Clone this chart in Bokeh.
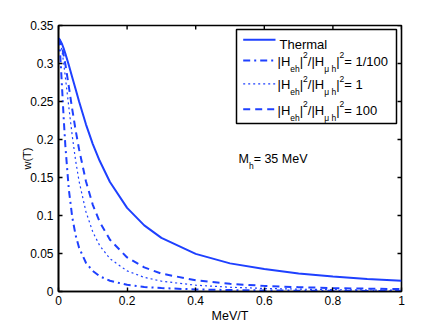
from bokeh.plotting import figure
from bokeh.models import Range1d, FixedTicker
from bokeh.core.properties import value
from bokeh.embed import file_html
from bokeh.resources import INLINE

# ---------------- data ----------------
mev_over_t = [0, 0.0025, 0.005, 0.0075, 0.01, 0.015, 0.02, 0.03, 0.04, 0.05, 0.06,
              0.08, 0.1, 0.12, 0.15, 0.2, 0.25, 0.3, 0.4, 0.5, 0.6, 0.7, 0.8, 0.9, 1.0]
w_thermal = [0.333, 0.332, 0.330, 0.328, 0.326, 0.320, 0.313, 0.298, 0.282, 0.266, 0.250,
             0.220, 0.194, 0.172, 0.144, 0.110, 0.087, 0.0706, 0.0495, 0.0370, 0.0295,
             0.0237, 0.0196, 0.0165, 0.0140]
w_ratio_1_100 = [0.333, 0.326, 0.311, 0.292, 0.271, 0.229, 0.1915, 0.1347, 0.098, 0.0739,
                 0.0576, 0.0378, 0.0269, 0.0201, 0.0141, 0.0088, 0.0060, 0.0045, 0.0027,
                 0.0019, 0.0014, 0.0011, 0.00085, 0.0007, 0.0006]
w_ratio_1 = [0.333, 0.332, 0.328, 0.323, 0.317, 0.301, 0.282, 0.243, 0.205, 0.172, 0.145,
             0.105, 0.0784, 0.0605, 0.0431, 0.0271, 0.0186, 0.0136, 0.0083, 0.0056, 0.0040,
             0.0031, 0.0024, 0.0020, 0.0016]
w_ratio_100 = [0.333, 0.332, 0.330, 0.326, 0.322, 0.311, 0.299, 0.270, 0.240, 0.212, 0.187,
               0.145, 0.114, 0.0916, 0.0681, 0.0448, 0.0317, 0.0236, 0.0147, 0.0101, 0.0074,
               0.0057, 0.0045, 0.0037, 0.0031]

x_ticks = [0, 0.2, 0.4, 0.6, 0.8, 1.0]
x_tick_labels = ["0", "0.2", "0.4", "0.6", "0.8", "1"]
y_ticks = [0, 0.05, 0.1, 0.15, 0.2, 0.25, 0.3, 0.35]
y_tick_labels = ["0", "0.05", "0.1", "0.15", "0.2", "0.25", "0.3", "0.35"]

legend_suffixes = [" = 1/100", " = 1", " = 100"]
mass_label = "35 MeV"

# ---------------- layout (page has no body margin: canvas px == screen px) ----------------
XMIN, XMAX, YMIN, YMAX = 0.0, 1.0, 0.0, 0.35
FL, FT, FW, FH = 58, 25, 343, 266
TICK = 4

BLUE = "#1e40ff"
FONT_NAME = "Liberation Sans"
FONT = value(FONT_NAME)
DASHDOT = "7 4 2 4"
DOTTED = "2 3"
DASHED = "7 5"

p = figure(frame_width=FW, frame_height=FH,
           x_range=Range1d(XMIN, XMAX), y_range=Range1d(YMIN, YMAX),
           output_backend="svg", toolbar_location=None,
           min_border_left=FL, min_border_right=41, min_border_top=FT, min_border_bottom=33,
           x_axis_label="MeV/T", y_axis_label="w(T)")
p.outline_line_color = "black"
p.outline_line_width = 1.6
p.xgrid.grid_line_color = None
p.ygrid.grid_line_color = None
p.background_fill_color = "white"
p.border_fill_color = "white"

xa = p.below[0]
ya = p.left[0]
xa.ticker = FixedTicker(ticks=x_ticks)
ya.ticker = FixedTicker(ticks=y_ticks)
xa.major_label_overrides = {t: l for t, l in zip(x_ticks, x_tick_labels)}
ya.major_label_overrides = {t: l for t, l in zip(y_ticks, y_tick_labels)}

for ax in [xa, ya]:
    ax.axis_line_color = "black"
    ax.axis_line_width = 1.6
    ax.major_tick_in = TICK
    ax.major_tick_out = 0
    ax.major_tick_line_width = 1.4
    ax.major_tick_line_color = "black"
    ax.minor_tick_line_color = None
    ax.major_label_text_font = FONT_NAME
    ax.major_label_text_font_size = "12px"
    ax.major_label_text_color = "black"
    ax.axis_label_text_font = FONT_NAME
    ax.axis_label_text_font_style = "normal"
    ax.axis_label_text_color = "black"
xa.axis_label_text_font_size = "12.5px"
ya.axis_label_text_font_size = "11px"
xa.major_label_standoff = 4
xa.axis_label_standoff = 1
ya.major_label_standoff = 5
ya.axis_label_standoff = -6

# tick marks on the top and right edges of the box (drawn from the tick lists)
px_x = (XMAX - XMIN) / FW
px_y = (YMAX - YMIN) / FH
p.segment(x0=x_ticks, x1=x_ticks, y0=[YMAX] * len(x_ticks), y1=[YMAX - TICK * px_y] * len(x_ticks),
          line_color="black", line_width=1.4)
p.segment(x0=[XMAX] * len(y_ticks), x1=[XMAX - TICK * px_x] * len(y_ticks), y0=y_ticks, y1=y_ticks,
          line_color="black", line_width=1.4)

# ---------------- curves ----------------
p.line(mev_over_t, w_thermal, line_color=BLUE, line_width=2)
p.line(mev_over_t, w_ratio_1_100, line_color=BLUE, line_width=2, line_dash=DASHDOT)
p.line(mev_over_t, w_ratio_1, line_color=BLUE, line_width=1.2, line_dash=DOTTED)
p.line(mev_over_t, w_ratio_100, line_color=BLUE, line_width=2, line_dash=DASHED)


# ---------------- helpers: screen px -> data ----------------
def dx(sx):
    return XMIN + (sx - FL) / FW * (XMAX - XMIN)


def dy(sy):
    return YMIN + (FT + FH - sy) / FH * (YMAX - YMIN)


def txt(sx, sy, s, size):
    p.text(x=[dx(sx)], y=[dy(sy)], text=[s], text_font=FONT, text_font_size=size,
           text_color="black", text_align="left", text_baseline="alphabetic")


# approximate advance widths (em) of Liberation Sans
EM = {"|": 0.26, "H": 0.722, "e": 0.556, "h": 0.556, "2": 0.556, "/": 0.278,
      "\u03bc": 0.576, " ": 0.278, "=": 0.584, "1": 0.556, "0": 0.556, "3": 0.556,
      "5": 0.556, "M": 0.833, "V": 0.667}
MAIN, SMALL = 13, 8.5


def rich(sx, base, pieces, main=MAIN):
    x = sx
    for s, kind in pieces:
        size = main if kind == "n" else SMALL
        yy = base + (7.5 if kind == "sub" else (-6 if kind == "sup" else 0))
        txt(x, yy, s, f"{size}px")
        x += sum(EM.get(c, 0.556) for c in s) * size


# ---------------- legend ----------------
p.quad(left=[dx(236)], right=[dx(396)], top=[dy(29)], bottom=[dy(123)],
       fill_color="white", line_color="black", line_width=1.5)

sample_y = [39.3, 60, 83.3, 108.7]
styles = [dict(line_width=2), dict(line_width=2, line_dash=DASHDOT),
          dict(line_width=1.2, line_dash=DOTTED), dict(line_width=2, line_dash=DASHED)]
for sy, st in zip(sample_y, styles):
    p.line([dx(242.7), dx(275)], [dy(sy), dy(sy)], line_color=BLUE, **st)

txt(279, 44.3, "Thermal", f"{MAIN}px")
for sy, suffix in zip(sample_y[1:], legend_suffixes):
    rich(277, sy + 0.8, [("|H", "n"), ("eh", "sub"), ("|", "n"), ("2", "sup"),
                         ("/|H", "n"), ("\u03bc h", "sub"), ("|", "n"), ("2", "sup"),
                         (suffix, "n")])

# ---------------- annotation ----------------
rich(238, 158, [("M", "n"), ("h", "sub"), (" = " + mass_label, "n")], main=12.5)

open("out.html", "w").write(file_html(p, INLINE))
